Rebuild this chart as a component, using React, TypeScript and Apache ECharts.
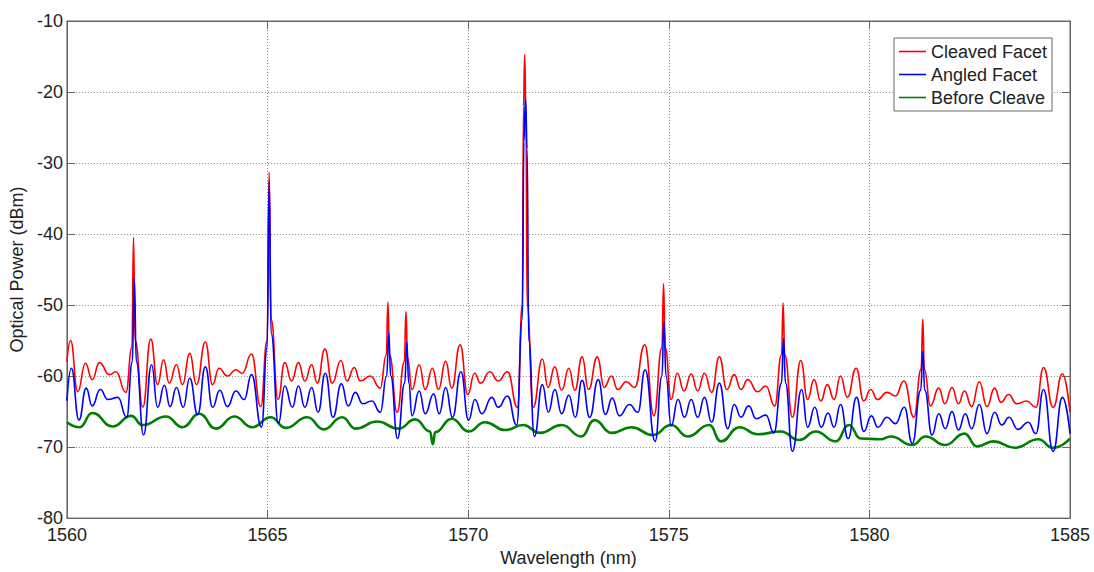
import React, { useEffect, useRef } from "react";
import * as echarts from "echarts";

const seriesNames = ["Cleaved Facet", "Angled Facet", "Before Cleave"];
const seriesColors = ["#ff0000", "#0000ff", "#008000"];

// [wavelength (nm), optical power (dBm)]
const cleavedFacet = [
  [1560.00,-58.0],[1560.09,-55.0],[1560.27,-62.2],[1560.46,-58.2],[1560.63,-60.5],[1560.81,-58.1],[1561.06,-59.8],[1561.22,-59.4],[1561.47,-62.3],
  [1561.62,-56.0],[1561.66,-40.5],[1561.70,-55.0],[1561.89,-64.4],[1562.09,-54.8],[1562.26,-61.2],[1562.41,-57.7],[1562.55,-61.0],[1562.73,-58.4],
  [1562.88,-61.2],[1563.06,-56.8],[1563.23,-61.2],[1563.45,-55.2],[1563.63,-61.2],[1563.79,-58.9],[1564.00,-60.0],[1564.21,-59.1],[1564.37,-59.6],
  [1564.60,-56.9],[1564.83,-64.3],[1564.99,-55.0],[1565.04,-31.3],[1565.09,-52.0],[1565.26,-63.3],[1565.43,-58.1],[1565.60,-60.7],[1565.77,-58.1],
  [1565.93,-60.7],[1566.10,-58.4],[1566.24,-61.0],[1566.43,-56.2],[1566.61,-61.0],[1566.83,-57.8],[1566.98,-60.7],[1567.16,-58.8],[1567.31,-60.7],
  [1567.56,-60.0],[1567.81,-61.7],[1567.96,-57.0],[1568.00,-49.6],[1568.04,-57.0],[1568.23,-65.1],[1568.41,-58.0],[1568.45,-50.9],[1568.49,-57.5],
  [1568.60,-61.9],[1568.78,-58.4],[1568.93,-61.9],[1569.11,-58.9],[1569.26,-61.9],[1569.44,-57.9],[1569.59,-61.7],[1569.80,-55.6],[1569.99,-62.6],
  [1570.16,-59.6],[1570.31,-61.0],[1570.54,-59.4],[1570.75,-60.7],[1570.98,-59.4],[1571.23,-64.4],[1571.35,-50.0],[1571.38,-22.0],[1571.41,-14.7],
  [1571.44,-24.0],[1571.47,-50.0],[1571.62,-64.4],[1571.85,-57.6],[1571.99,-61.6],[1572.16,-58.7],[1572.33,-62.0],[1572.51,-58.9],[1572.66,-62.0],
  [1572.84,-57.3],[1573.00,-61.9],[1573.22,-57.3],[1573.39,-61.6],[1573.57,-60.0],[1573.73,-61.9],[1573.94,-60.8],[1574.15,-61.6],[1574.40,-55.6],
  [1574.63,-65.6],[1574.83,-56.0],[1574.87,-47.0],[1574.91,-56.0],[1575.06,-63.3],[1575.21,-59.6],[1575.38,-62.1],[1575.56,-59.7],[1575.72,-62.1],
  [1575.89,-59.6],[1576.07,-62.3],[1576.26,-57.3],[1576.45,-61.9],[1576.63,-59.8],[1576.80,-61.9],[1576.97,-60.5],[1577.21,-62.2],[1577.42,-61.4],
  [1577.64,-64.2],[1577.81,-57.0],[1577.85,-49.7],[1577.89,-57.0],[1578.08,-65.8],[1578.29,-57.8],[1578.46,-63.3],[1578.62,-60.5],[1578.79,-63.5],
  [1578.95,-61.2],[1579.12,-63.3],[1579.28,-60.0],[1579.45,-63.0],[1579.67,-58.9],[1579.86,-63.5],[1580.03,-61.9],[1580.20,-63.3],[1580.44,-62.3],
  [1580.65,-62.8],[1580.86,-60.7],[1581.11,-65.8],[1581.29,-59.0],[1581.33,-52.0],[1581.37,-59.0],[1581.52,-64.2],[1581.73,-61.7],[1581.88,-63.9],
  [1582.06,-61.6],[1582.22,-63.9],[1582.37,-62.1],[1582.55,-64.3],[1582.74,-60.8],[1582.93,-64.3],[1583.12,-61.7],[1583.28,-63.7],[1583.47,-62.6],
  [1583.67,-63.9],[1583.92,-63.5],[1584.15,-64.4],[1584.34,-58.8],[1584.58,-64.4],[1584.81,-59.7],[1585.00,-65.1],
];

const angledFacet = [
  [1560.00,-63.5],[1560.11,-58.9],[1560.30,-66.2],[1560.48,-61.7],[1560.63,-64.2],[1560.83,-61.9],[1561.02,-63.3],[1561.27,-63.0],[1561.49,-65.8],
  [1561.63,-58.0],[1561.68,-46.3],[1561.73,-58.0],[1561.91,-68.3],[1562.11,-58.4],[1562.26,-64.4],[1562.43,-61.3],[1562.57,-64.3],[1562.73,-61.6],
  [1562.90,-64.4],[1563.06,-60.3],[1563.26,-65.4],[1563.45,-58.7],[1563.63,-64.4],[1563.81,-62.0],[1564.00,-64.3],[1564.21,-62.1],[1564.42,-63.3],
  [1564.60,-59.8],[1564.85,-67.2],[1564.99,-56.0],[1565.04,-32.6],[1565.09,-54.0],[1565.27,-66.7],[1565.43,-61.4],[1565.62,-64.4],[1565.77,-61.4],
  [1565.93,-64.4],[1566.10,-61.6],[1566.26,-65.1],[1566.44,-59.6],[1566.63,-65.8],[1566.84,-61.1],[1567.01,-64.2],[1567.19,-62.3],[1567.37,-63.9],
  [1567.60,-63.5],[1567.81,-65.1],[1567.97,-60.0],[1568.02,-53.9],[1568.07,-60.0],[1568.24,-68.8],[1568.42,-61.0],[1568.47,-55.2],[1568.52,-61.0],
  [1568.60,-65.6],[1568.78,-62.1],[1568.93,-65.3],[1569.14,-62.5],[1569.28,-65.3],[1569.44,-61.6],[1569.61,-65.8],[1569.82,-59.4],[1570.01,-66.2],
  [1570.17,-63.3],[1570.34,-65.3],[1570.59,-63.0],[1570.75,-64.4],[1570.98,-62.8],[1571.21,-66.9],[1571.35,-52.0],[1571.39,-27.0],[1571.43,-20.9],
  [1571.47,-28.0],[1571.51,-55.0],[1571.65,-68.5],[1571.85,-61.2],[1572.00,-65.1],[1572.16,-61.9],[1572.33,-65.3],[1572.51,-62.7],[1572.67,-65.8],
  [1572.84,-60.6],[1573.03,-65.8],[1573.24,-60.5],[1573.42,-65.4],[1573.59,-63.1],[1573.77,-65.6],[1574.02,-64.0],[1574.23,-65.1],[1574.41,-59.1],
  [1574.66,-69.2],[1574.83,-60.0],[1574.88,-52.3],[1574.93,-60.0],[1575.06,-67.0],[1575.23,-63.3],[1575.39,-65.8],[1575.56,-63.3],[1575.72,-65.8],
  [1575.89,-63.0],[1576.07,-66.5],[1576.26,-61.0],[1576.47,-67.4],[1576.63,-64.0],[1576.80,-65.8],[1576.99,-64.2],[1577.18,-66.0],[1577.42,-65.5],
  [1577.62,-68.0],[1577.81,-61.0],[1577.86,-54.7],[1577.91,-61.0],[1578.08,-70.6],[1578.31,-61.9],[1578.46,-67.2],[1578.64,-64.4],[1578.80,-67.2],
  [1578.97,-65.2],[1579.12,-67.2],[1579.28,-64.0],[1579.47,-68.8],[1579.68,-63.0],[1579.86,-67.8],[1580.05,-65.6],[1580.21,-67.2],[1580.44,-65.8],
  [1580.65,-66.7],[1580.87,-64.4],[1581.07,-69.5],[1581.28,-62.0],[1581.33,-56.5],[1581.38,-62.0],[1581.56,-68.3],[1581.73,-65.3],[1581.89,-67.4],
  [1582.06,-65.0],[1582.22,-67.6],[1582.39,-65.3],[1582.55,-67.4],[1582.74,-64.0],[1582.93,-68.1],[1583.12,-65.1],[1583.30,-66.9],[1583.48,-65.8],
  [1583.70,-67.5],[1583.96,-66.5],[1584.15,-68.1],[1584.34,-61.9],[1584.58,-70.6],[1584.81,-63.0],[1585.00,-68.1],
];

const beforeCleave = [
  [1560.00,-66.5],[1560.32,-67.2],[1560.63,-65.2],[1561.14,-67.1],[1561.60,-65.6],[1561.89,-66.9],[1562.47,-65.7],[1562.88,-67.2],[1563.30,-65.3],
  [1563.71,-67.4],[1564.17,-65.7],[1564.62,-67.2],[1565.08,-65.8],[1565.45,-67.3],[1565.99,-65.8],[1566.40,-67.5],[1566.86,-65.8],[1567.19,-67.4],
  [1567.73,-66.4],[1568.27,-67.4],[1568.68,-66.1],[1569.05,-67.8],[1569.12,-69.6],[1569.18,-67.9],[1569.59,-66.0],[1570.01,-67.8],[1570.42,-66.5],
  [1570.92,-67.6],[1571.37,-66.9],[1571.79,-68.0],[1572.33,-66.9],[1572.82,-68.5],[1573.15,-66.2],[1573.57,-68.0],[1574.07,-67.2],[1574.60,-68.3],
  [1575.06,-66.9],[1575.47,-68.5],[1576.01,-66.9],[1576.30,-69.2],[1576.76,-67.2],[1577.21,-68.2],[1577.79,-67.8],[1578.25,-69.0],[1578.66,-67.8],
  [1579.16,-69.2],[1579.49,-66.9],[1579.78,-68.8],[1580.28,-68.9],[1580.53,-68.5],[1581.07,-69.7],[1581.40,-68.5],[1581.89,-69.7],[1582.37,-68.1],
  [1582.68,-69.9],[1583.09,-69.2],[1583.63,-70.1],[1584.21,-68.9],[1584.58,-70.1],[1585.00,-68.8],
];

const seriesData = [cleavedFacet, angledFacet, beforeCleave];
const seriesWidths = [1.6, 1.6, 2.6];
const seriesZ = [3, 4, 2];

const xMin = 1560, xMax = 1585, xStep = 5;
const yMin = -80, yMax = -10, yStep = 10;

const FONT = "'Liberation Sans', Arial, Helvetica, sans-serif";
const TEXT = "#222";
const AXIS = "#666";

export default function App() {
  const ref = useRef<HTMLDivElement>(null);
  useEffect(() => {
    const chart = echarts.init(ref.current as HTMLDivElement, null, { renderer: "svg" });
    const tickCommon = {
      show: true,
      inside: true,
      length: 8,
      lineStyle: { color: AXIS, width: 1 },
    };
    chart.setOption({
      animation: false,
      backgroundColor: "#ffffff",
      grid: {
        left: 64, right: 24, top: 21, bottom: 42,
        show: true, borderColor: AXIS, borderWidth: 1, backgroundColor: "transparent",
      },
      legend: {
        data: seriesNames.map((name) => ({ name, icon: "rect" })),
        orient: "vertical",
        left: 894,
        top: 38,
        padding: [2, 5, 2, 5],
        itemGap: 0,
        itemWidth: 27,
        itemHeight: 1.6,
        backgroundColor: "#ffffff",
        borderColor: AXIS,
        borderWidth: 1,
        borderRadius: 0,
        textStyle: { fontFamily: FONT, fontSize: 18, color: TEXT, lineHeight: 23 },
      },
      xAxis: [
        {
          type: "value", min: xMin, max: xMax, interval: xStep,
          name: "Wavelength (nm)", nameLocation: "middle", nameGap: 22,
          nameTextStyle: { fontFamily: FONT, fontSize: 18, color: TEXT },
          axisLine: { show: true, onZero: false, lineStyle: { color: AXIS, width: 1 } },
          axisTick: tickCommon,
          axisLabel: { fontFamily: FONT, fontSize: 18, color: TEXT, margin: 8, formatter: (v: number) => String(v) },
          splitLine: { show: true, lineStyle: { color: "#8a8a8a", type: [1, 2], width: 1 } },
        },
        {
          type: "value", min: xMin, max: xMax, interval: xStep, position: "top",
          axisLine: { show: true, onZero: false, lineStyle: { color: AXIS, width: 1 } },
          axisTick: tickCommon,
          axisLabel: { show: false },
          splitLine: { show: false },
        },
      ],
      yAxis: [
        {
          type: "value", min: yMin, max: yMax, interval: yStep,
          name: "Optical Power (dBm)", nameLocation: "middle", nameGap: 36,
          nameTextStyle: { fontFamily: FONT, fontSize: 18, color: TEXT },
          axisLine: { show: true, onZero: false, lineStyle: { color: AXIS, width: 1 } },
          axisTick: tickCommon,
          axisLabel: { fontFamily: FONT, fontSize: 18, color: TEXT, margin: 4, formatter: (v: number) => String(v) },
          splitLine: { show: true, lineStyle: { color: "#8a8a8a", type: [1, 2], width: 1 } },
        },
        {
          type: "value", min: yMin, max: yMax, interval: yStep, position: "right",
          axisLine: { show: true, onZero: false, lineStyle: { color: AXIS, width: 1 } },
          axisTick: tickCommon,
          axisLabel: { show: false },
          splitLine: { show: false },
        },
      ],
      series: seriesNames.map((name, i) => ({
        name,
        type: "line",
        xAxisIndex: 0,
        yAxisIndex: 0,
        data: seriesData[i],
        symbol: "none",
        showSymbol: false,
        smooth: 0.5,
        smoothMonotone: "x",
        z: seriesZ[i],
        color: seriesColors[i],
        itemStyle: { color: seriesColors[i] },
        lineStyle: { color: seriesColors[i], width: seriesWidths[i] },
        emphasis: { disabled: true },
      })),
    });
    return () => chart.dispose();
  }, []);
  return (
    <div
      ref={ref}
      style={{ position: "absolute", left: 0, top: 0, width: 1094, height: 572, background: "#fff" }}
    />
  );
}
